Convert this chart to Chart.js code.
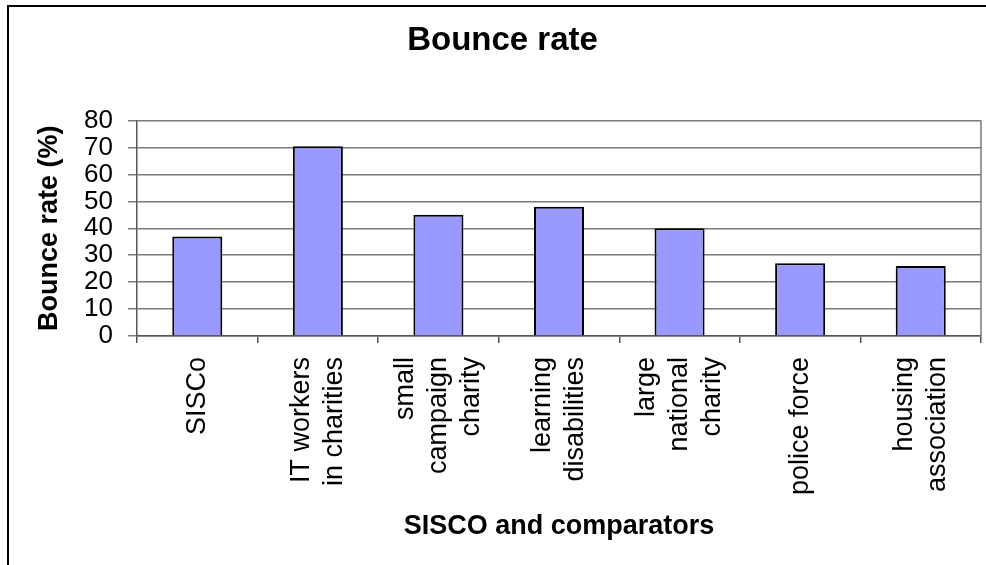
<!DOCTYPE html>
<html>
<head>
<meta charset="utf-8">
<title>Bounce rate</title>
<script src="https://cdn.jsdelivr.net/npm/chart.js@4/dist/chart.umd.min.js"></script>
<style>
  html, body { margin: 0; padding: 0; background: #fff; }
  #wrap { position: relative; width: 986px; height: 565px; overflow: hidden; }
  #frame { position: absolute; left: 7px; top: 5px; width: 1000px; height: 600px; border-left: 2px solid #000; border-top: 2px solid #000; pointer-events: none; }
</style>
</head>
<body>
<div id="wrap">
  <canvas id="chart"></canvas>
  <div id="frame"></div>
</div>
<script>
// data
const categories = [
        ['SISCo'],
        ['IT workers', 'in charities'],
        ['small', 'campaign', 'charity'],
        ['learning', 'disabilities'],
        ['large', 'national', 'charity'],
        ['police force'],
        ['housing', 'association']
]
const bounceRate = [37, 70.5, 45, 48, 40, 27, 26]
const yMin = 0
const yMax = 80
const yStep = 10

const FONT = '"Liberation Sans", Arial, sans-serif'
const lineGap = 33
const labelGap = 21

// rotated, centred multi-line category labels
const xLabels = {
        id: 'xLabels',
        afterDraw(chart) {
                const { ctx, chartArea, scales } = chart
                ctx.save()
                ctx.font = '27px ' + FONT
                ctx.fillStyle = '#000'
                ctx.textAlign = 'right'
                ctx.textBaseline = 'middle'
                chart.data.labels.forEach((lines, i) => {
                        const cx = scales.x.getPixelForTick(i)
                        lines.forEach((line, j) => {
                                ctx.save()
                                ctx.translate(cx + (j - (lines.length - 1) / 2) * lineGap, chartArea.bottom + labelGap)
                                ctx.rotate(-Math.PI / 2)
                                ctx.fillText(line, 0, 0)
                                ctx.restore()
                        })
                })
                // right edge of the plot area
                ctx.strokeStyle = '#7a7a7a'
                ctx.lineWidth = 1.5
                ctx.beginPath()
                ctx.moveTo(chartArea.right, chartArea.top)
                ctx.lineTo(chartArea.right, chartArea.bottom)
                ctx.stroke()
                ctx.restore()
        }
}

const ctx = document.getElementById('chart').getContext('2d')

new Chart(ctx, {
        type: 'bar',
        data: {
                labels: categories,
                datasets: [{
                        label: 'Bounce rate (%)',
                        data: bounceRate,
                        backgroundColor: '#9999ff',
                        borderColor: '#000',
                        borderWidth: 2,
                        categoryPercentage: 1,
                        barPercentage: 0.415
                }]
        },
        options: {
                responsive: true,
                maintainAspectRatio: false,
                animation: false,
                layout: { padding: { left: 24, right: 5, top: 8, bottom: 10 } },
                plugins: {
                        legend: { display: false },
                        tooltip: { enabled: false },
                        title: {
                                display: true,
                                text: 'Bounce rate',
                                color: '#000',
                                font: { family: FONT, size: 33, weight: 'bold' },
                                padding: { top: 13, bottom: 60 }
                        }
                },
                scales: {
                        x: {
                                grid: { display: true, drawOnChartArea: false, drawTicks: true, tickLength: 7, color: '#555', lineWidth: 1.5, offset: true },
                                border: { display: true, color: '#555', width: 1.5 },
                                ticks: { display: false },
                                title: {
                                        display: true,
                                        text: 'SISCO and comparators',
                                        color: '#000',
                                        font: { family: FONT, size: 27, weight: 'bold' },
                                        padding: { top: 0, bottom: 12 }
                                },
                                afterFit(scale) { scale.height = 219 }
                        },
                        y: {
                                min: yMin,
                                max: yMax,
                                grid: { color: '#7a7a7a', lineWidth: 1.5, tickLength: 9 },
                                border: { display: true, color: '#555', width: 1.5 },
                                ticks: {
                                        stepSize: yStep,
                                        autoSkip: false,
                                        color: '#000',
                                        padding: 15,
                                        font: { family: FONT, size: 26, lineHeight: 1 }
                                },
                                title: {
                                        display: true,
                                        text: 'Bounce rate (%)',
                                        color: '#000',
                                        font: { family: FONT, size: 27, weight: 'bold' },
                                        padding: { top: 9, bottom: 0 }
                                },
                                afterFit(scale) { scale.width = 113 }
                        }
                }
        },
        plugins: [xLabels]
})
</script>
</body>
</html>
